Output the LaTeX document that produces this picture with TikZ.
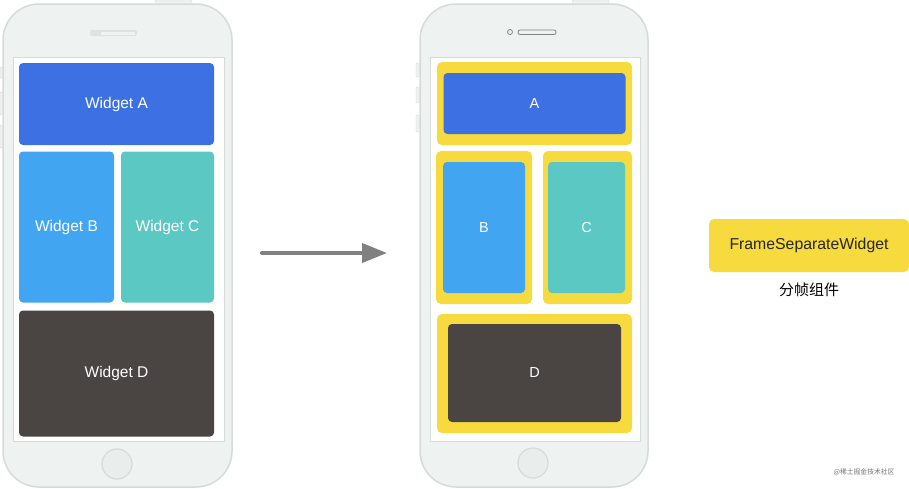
\documentclass[tikz,border=0pt]{standalone}
\usepackage{fontspec}
\setmainfont{Liberation Sans}
\newfontfamily\cjk{Noto Sans CJK SC}
\usetikzlibrary{arrows.meta,positioning}

\definecolor{bodygray}{RGB}{238,242,241}
\definecolor{edgegray}{RGB}{214,219,218}
\definecolor{wblue}{RGB}{61,112,226}
\definecolor{wsky}{RGB}{66,165,242}
\definecolor{wteal}{RGB}{92,200,196}
\definecolor{wdark}{RGB}{74,68,67}
\definecolor{fyellow}{RGB}{246,218,62}
\definecolor{arrowgray}{RGB}{128,128,128}

\begin{document}
\begin{tikzpicture}[
  x=1pt, y=-1pt,
  phone/.style={draw=edgegray, line width=1.5pt, fill=bodygray, rounded corners=36pt, minimum width=229pt, minimum height=483pt},
  screen/.style={draw=edgegray, line width=1pt, fill=white, minimum width=211pt, minimum height=384pt},
  sidebtn/.style={draw=edgegray, fill=bodygray, rounded corners=1pt},
  homebtn/.style={circle, draw=edgegray, line width=1.2pt, fill=bodygray!80!edgegray, minimum size=30pt, inner sep=0pt},
  widget/.style={rounded corners=4pt, text=white, inner sep=0pt, font=\fontsize{15.5}{18}\selectfont},
  frame/.style={fill=fyellow, rounded corners=5pt, inner sep=0pt},
  flow/.style={arrowgray, line width=4pt, line cap=round, -{Triangle[length=25pt,width=19pt]}}
]
\useasboundingbox (0,0) rectangle (909,488);

% Left phone
\draw[sidebtn] (0,67) rectangle (5,78);
\draw[sidebtn] (0,92) rectangle (5,115);
\draw[sidebtn] (0,125) rectangle (5,148);
\draw[sidebtn, rounded corners=2pt] (155,0) rectangle (192,8);
\node[phone] (phoneL) at (117.5,245.5) {};
\node[screen] (screenL) at (118.5,249) {};
\node[homebtn] (homeL) at (117,464) {};
\fill[edgegray!80, rounded corners=2pt] (90,30) rectangle (137,36);
\fill[bodygray] (101,31.5) rectangle (135,34.5);

\node[widget, fill=wblue, minimum width=195pt, minimum height=82pt] (wa) at (116.5,104) {Widget A};
\node[widget, fill=wsky, minimum width=95pt, minimum height=151pt] (wb) at (66.5,227) {Widget B};
\node[widget, fill=wteal, minimum width=93pt, minimum height=151pt] (wc) at (167.5,227) {Widget C};
\node[widget, fill=wdark, minimum width=195pt, minimum height=126pt] (wd) at (116.5,373.5) {Widget D};

% Arrow between phones
\coordinate (arrowstart) at (262,253);
\coordinate (arrowend) at (387,253);
\draw[flow] (arrowstart) -- (arrowend);

% Right phone
\draw[sidebtn] (416,63) rectangle (421,77);
\draw[sidebtn] (416,87) rectangle (421,103);
\draw[sidebtn] (416,115) rectangle (421,132);
\draw[sidebtn, rounded corners=2pt] (572,0) rectangle (609,8);
\node[phone, minimum width=228pt] (phoneR) at (534,245.5) {};
\node[screen, minimum width=210pt] (screenR) at (535,249) {};
\node[homebtn] (homeR) at (533,463) {};
\node[circle, draw=edgegray!60!black, line width=0.8pt, fill=bodygray, minimum size=5pt, inner sep=0pt] (camR) at (510,32) {};
\draw[edgegray!60!black, line width=0.8pt, rounded corners=2pt] (518,30) rectangle (556,34.5);

% Frames with widgets inside
\node[frame, minimum width=195pt, minimum height=83pt] (fa) at (534.5,103.5) {};
\node[frame, minimum width=96pt, minimum height=153pt] (fb) at (484,227.5) {};
\node[frame, minimum width=89pt, minimum height=153pt] (fc) at (587.5,227.5) {};
\node[frame, minimum width=195pt, minimum height=119pt] (fd) at (534.5,373.5) {};
\node[widget, fill=wblue, minimum width=182pt, minimum height=61pt, font=\fontsize{14.5}{16}\selectfont] (a) at (fa) {A};
\node[widget, fill=wsky, minimum width=82pt, minimum height=131pt, font=\fontsize{14.5}{16}\selectfont] (b) at (484,227.5) {B};
\node[widget, fill=wteal, minimum width=77pt, minimum height=131pt, font=\fontsize{14.5}{16}\selectfont] (c) at (586.5,227.5) {C};
\node[widget, fill=wdark, minimum width=173pt, minimum height=98pt, font=\fontsize{14.5}{16}\selectfont] (d) at (534.5,373) {D};

% Legend
\node[frame, minimum width=200pt, minimum height=53pt, font=\fontsize{15.8}{18}\selectfont, text=black!85] (legend) at (809,245.5) {FrameSeparateWidget};
\node[below=7pt of legend, font=\cjk\fontsize{15}{18}\selectfont] (legendtxt) {分帧组件};

% Watermark
\node[anchor=east, text=black!55, font=\cjk\fontsize{6.8}{8}\selectfont] (mark) at (898,472) {@稀土掘金技术社区};
\end{tikzpicture}
\end{document}
